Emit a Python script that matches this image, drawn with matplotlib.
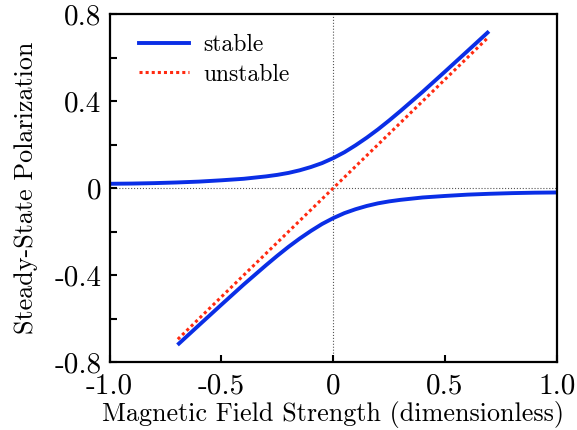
import matplotlib
matplotlib.use('Agg')
import matplotlib.pyplot as plt

# values
h_up = [-1.0, -0.9, -0.8, -0.7, -0.6, -0.5, -0.4, -0.3, -0.25, -0.2, -0.15, -0.1, -0.05,
        0.0, 0.05, 0.1, 0.15, 0.2, 0.25, 0.3, 0.4, 0.5, 0.6, 0.69]
p_up = [0.020, 0.021, 0.023, 0.026, 0.030, 0.036, 0.043, 0.054, 0.061, 0.070, 0.082, 0.097, 0.115,
        0.138, 0.165, 0.197, 0.232, 0.270, 0.311, 0.354, 0.443, 0.536, 0.630, 0.715]
h_lo = [-0.69, -0.6, -0.5, -0.4, -0.3, -0.25, -0.2, -0.15, -0.1, -0.05, 0.0,
        0.05, 0.1, 0.15, 0.2, 0.25, 0.3, 0.4, 0.5, 0.6, 0.7, 0.8, 0.9, 1.0]
p_lo = [-0.715, -0.630, -0.536, -0.443, -0.354, -0.311, -0.270, -0.232, -0.197, -0.165, -0.138,
        -0.115, -0.097, -0.082, -0.070, -0.061, -0.054, -0.043, -0.036, -0.030, -0.026, -0.023, -0.021, -0.020]
h_un = [-0.695, 0.695]
p_un = [-0.695, 0.695]

xticks = [-1.0, -0.5, 0.0, 0.5, 1.0]
xlabels = ['-1.0', '-0.5', '0', '0.5', '1.0']
yticks = [-0.8, -0.6, -0.4, -0.2, 0.0, 0.2, 0.4, 0.6, 0.8]
ylabels = ['-0.8', '', '-0.4', '', '0', '', '0.4', '', '0.8']

plt.rcParams['font.family'] = ['cmr10', 'DejaVu Serif']
plt.rcParams['axes.unicode_minus'] = False

fig = plt.figure(figsize=(5.77, 4.30), dpi=100)
ax = fig.add_axes([0.19, 0.158, 0.775, 0.809])

ax.axhline(0, color='#555555', lw=0.8, ls=':', zorder=1)
ax.axvline(0, color='#555555', lw=0.8, ls=':', zorder=1)

ax.plot(h_up, p_up, color='#0a2ee6', lw=2.8, label='stable', zorder=2)
ax.plot(h_lo, p_lo, color='#0a2ee6', lw=2.8, zorder=2)
ax.plot(h_un, p_un, color='#ff2a10', lw=2.2, ls=(0, (1, 1.0)), label='unstable', zorder=3)

ax.set_xlim(-1, 1)
ax.set_ylim(-0.8, 0.8)
ax.set_xticks(xticks)
ax.set_xticklabels(xlabels)
ax.set_yticks(yticks)
ax.set_yticklabels(ylabels)
ax.tick_params(direction='in', length=5, width=1.5, labelsize=21)
ax.tick_params(axis='x', pad=8)
ax.tick_params(axis='y', pad=6)
for s in ax.spines.values():
    s.set_linewidth(1.6)

ax.set_xlabel('Magnetic Field Strength (dimensionless)', fontsize=18.8, labelpad=1)
ax.set_ylabel('Steady-State Polarization', fontsize=18.8, labelpad=12)

ax.legend(loc='upper left', bbox_to_anchor=(0.02, 1.0), frameon=False, fontsize=17,
          handlelength=2.15, handletextpad=0.6, borderaxespad=0.45, labelspacing=0.3)

fig.savefig('out.png', dpi=100)
